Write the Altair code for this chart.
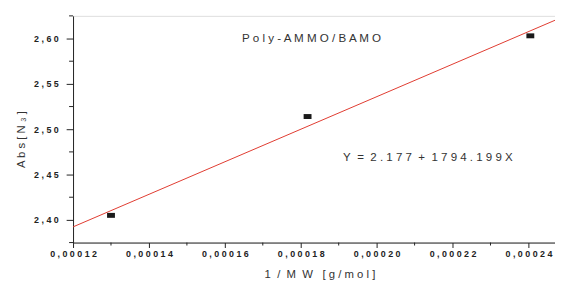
import altair as alt
import pandas as pd

# data
inv_mw = [0.000130, 0.0001818, 0.0002405]
absn3 = [2.405, 2.514, 2.603]

# fitted line as printed on the chart
intercept = 2.177
slope = 1794.199
fit_x = [0.00012, 0.000247]

x_major = [0.00012, 0.00014, 0.00016, 0.00018, 0.00020, 0.00022, 0.00024]
x_minor = [0.00013, 0.00015, 0.00017, 0.00019, 0.00021, 0.00023]
y_major = [2.40, 2.45, 2.50, 2.55, 2.60]
y_minor = [2.375, 2.425, 2.475, 2.525, 2.575, 2.625]

pts = pd.DataFrame({"x": inv_mw, "y": absn3})
fit = pd.DataFrame({"x": fit_x, "y": [intercept + slope * v for v in fit_x]})

FONT = "Liberation Sans"
xscale = alt.Scale(domain=[0.00012, 0.000247], nice=False, zero=False)
yscale = alt.Scale(domain=[2.375, 2.625], nice=False, zero=False)
NB = "\u00a0"

xaxis = alt.Axis(
    values=x_major,
    title=f"1{NB}{NB}/{NB}{NB}M{NB}{NB}W{NB}{NB}{NB}[ g / m o l ]",
    labelExpr="join(split(replace(format(datum.value, '.5f'), '.', ','), ''), ' ')",
    labelFont=FONT, labelFontSize=9, labelFontWeight="bold", labelColor="#222",
    labelFlush=False, labelOverlap=False, labelPadding=2,
    tickSize=5, tickColor="#222", domainColor="#222", grid=False,
    titleFont=FONT, titleFontSize=11.5, titleFontWeight="normal", titleColor="#333",
    titleX=250, titleY=32, titleBaseline="middle", titleAlign="center",
)
yaxis = alt.Axis(
    values=y_major,
    title="A b s [ N ₃ ]",
    labelExpr="join(split(replace(format(datum.value, '.2f'), '.', ','), ''), ' ')",
    labelFont=FONT, labelFontSize=9, labelFontWeight="bold", labelColor="#222",
    labelFlush=False, labelOverlap=False, labelPadding=8,
    tickSize=7, tickColor="#222", domainColor="#222", grid=False,
    titleFont=FONT, titleFontSize=11.5, titleFontWeight="normal", titleColor="#333",
    titleX=-52, titleY=125, titleBaseline="middle", titleAlign="center", titleAngle=-90,
)

line = alt.Chart(fit).mark_line(color="#e03a2f", strokeWidth=1, clip=True).encode(
    x=alt.X("x:Q", scale=xscale, axis=xaxis),
    y=alt.Y("y:Q", scale=yscale, axis=yaxis),
)

points = alt.Chart(pts).mark_point(
    shape="M-1,-0.625L1,-0.625L1,0.625L-1,0.625Z", size=64, filled=True,
    color="#1a1a1a", opacity=1,
).encode(
    x=alt.X("x:Q", scale=xscale),
    y=alt.Y("y:Q", scale=yscale),
)

xminor = alt.Chart(pd.DataFrame({"v": x_minor})).mark_rule(color="#222", strokeWidth=1).encode(
    x=alt.X("v:Q", scale=xscale),
    y=alt.value(230), y2=alt.value(233),
)
yminor = alt.Chart(pd.DataFrame({"v": y_minor})).mark_rule(color="#222", strokeWidth=1).encode(
    y=alt.Y("v:Q", scale=yscale),
    x=alt.value(-4), x2=alt.value(0),
)

label = alt.Chart(pd.DataFrame({"t": ["P o l y - A M M O / B A M O"]})).mark_text(
    font=FONT, fontSize=11.8, color="#333", align="center", baseline="middle",
).encode(x=alt.value(242), y=alt.value(22), text="t:N")

eq_text = f"Y{NB}{NB}={NB}{NB}2 . 1 7 7{NB}{NB}+{NB}{NB}1 7 9 4 . 1 9 9 X"
eq = alt.Chart(pd.DataFrame({"t": [eq_text]})).mark_text(
    font=FONT, fontSize=11.7, color="#333", align="left", baseline="middle",
).encode(x=alt.value(274), y=alt.value(143), text="t:N")

chart = alt.layer(line, points, xminor, yminor, label, eq).properties(
    width=489, height=230,
    autosize=alt.AutoSizeParams(type="none"),
    padding={"left": 66, "top": 6, "right": 0, "bottom": 37},
).configure_view(stroke=None).configure(background="white")

chart.save("out.html", embed_options={"renderer": "svg", "actions": False})
